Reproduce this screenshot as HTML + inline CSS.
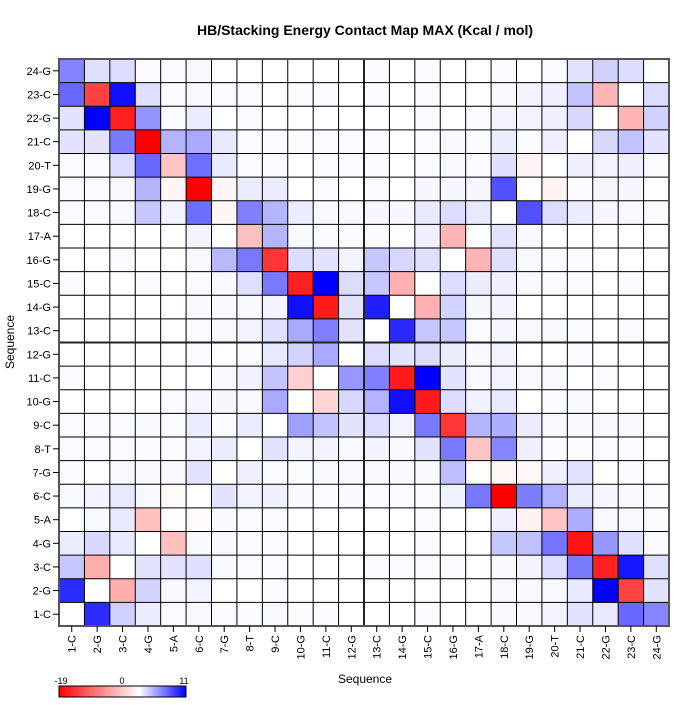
<!DOCTYPE html>
<html><head><meta charset="utf-8"><style>
body{margin:0;background:#fff;}
svg text{font-family:"Liberation Sans",sans-serif;}
</style></head><body>
<svg id="chart" width="700" height="700" xmlns="http://www.w3.org/2000/svg">
<defs><linearGradient id="cbar" x1="0" x2="1" y1="0" y2="0">
<stop offset="0" stop-color="#ff0000"/><stop offset="0.633" stop-color="#ffffff"/><stop offset="1" stop-color="#0000ff"/>
</linearGradient></defs>
<text x="365" y="35" text-anchor="middle" font-size="14" font-weight="bold">HB/Stacking Energy Contact Map MAX (Kcal / mol)</text>
<g id="cells"></g>
<g id="grid"></g>
<g id="ticks"></g>
<text x="365" y="683" text-anchor="middle" font-size="12">Sequence</text>
<text transform="translate(14,342) rotate(-90)" text-anchor="middle" font-size="12">Sequence</text>
<g>
<rect x="59" y="686" width="127" height="11" fill="url(#cbar)" stroke="#000" stroke-width="1"/>
<text x="61" y="684" text-anchor="middle" font-size="9">-19</text>
<text x="122" y="684" text-anchor="middle" font-size="9">0</text>
<text x="184" y="684" text-anchor="middle" font-size="9">11</text>
</g>
</svg>
<script>
const labels=["1-C","2-G","3-C","4-G","5-A","6-C","7-G","8-T","9-C","10-G","11-C","12-G","13-C","14-G","15-C","16-G","17-A","18-C","19-G","20-T","21-C","22-G","23-C","24-G"];
const vmin=-19, vmax=11;
// rows listed from 24 (top) down to 1; columns 1..24
const row24=[5.3,1.4,1.5,.2,.2,.3,0,0,0,0,0,0,.2,0,.2,0,0,.2,0,.2,1.2,2,1.5,0];
const row23=[6.5,-14,10.3,1.4,.2,.3,.2,.2,0,.2,.2,0,.2,0,.2,0,0,.3,.5,.7,2.6,-5.5,0,1.5];
const row22=[1.2,11,-16.6,4.6,.2,.8,0,.2,0,0,0,0,0,0,.2,0,.2,.5,.5,.7,1.7,0,-5.5,2];
const row21=[1.2,1.2,5.7,-19,3.3,3.7,1,.2,.2,.2,.2,.2,.2,0,.2,.3,.2,.8,.2,.7,0,1.7,2.6,1.2];
const row20=[.2,.2,1.5,6.5,-4.4,6.2,1,.2,.2,0,.2,.2,.2,0,.2,.3,.2,1.4,-1,0,.7,.5,.7,.2];
const row19=[.2,.2,.3,3.2,-.7,-19,-.6,.8,.8,0,.2,0,.2,0,.4,.4,.4,7.5,0,-.9,.2,.4,.4,0];
const row18=[.2,.2,.3,2.4,.5,6.3,-.7,5.5,3.2,.8,.3,.3,.4,.4,1,1.5,1,0,7.5,1.5,.8,.4,.3,.2];
const row17=[0,0,0,0,0,.5,0,-4.7,3.2,.3,.2,.2,.2,.1,.7,-5.5,0,1.2,.3,0,0,0,0,0];
const row16=[0,0,.2,0,0,.3,3,5.8,-15,1.5,1.2,.5,2.4,1.7,1.4,0,-5.5,1.4,.3,.2,.2,0,0,0];
const row15=[.2,0,0,.2,0,.2,.3,1.4,5.8,-16.6,11,1.5,2.4,-5.8,0,1.5,.8,.7,.3,.2,.2,0,.2,0];
const row14=[0,0,0,0,0,.3,.3,.3,.5,10.3,-17,1.2,9.6,0,-5.8,1.9,.4,.5,0,0,0,0,0,0];
const row13=[0,0,0,0,0,.2,.3,.5,1.4,3.7,5.5,1.2,0,9.2,2.4,2.4,.2,.4,.3,.3,.2,0,.2,0];
const row12=[0,0,0,0,0,.2,0,.2,1,1.9,3.7,0,1.5,1.2,1.5,.8,.3,.5,0,0,.2,0,0,0];
const row11=[.2,0,0,0,0,0,.3,.6,2.6,-3.5,0,4.5,5.5,-17,11,1.2,.3,.5,.3,.3,0,.2,0,0];
const row10=[0,0,0,0,.2,.4,.4,.3,3.7,0,-3.2,1.7,3.3,10.3,-17,1.5,.6,1,0,.2,.3,0,0,0];
const row9=[.2,.2,.2,.3,.2,.8,.2,.8,0,4.1,2.6,1.2,1.5,.5,5.8,-15,3.2,3.5,.8,.3,.3,.3,.3,0];
const row8=[.2,.2,.2,.2,.2,.5,.8,0,1.2,.5,.5,.3,.5,.3,1.2,5.7,-4.4,5.2,.7,.2,.2,.2,.2,0];
const row7=[.2,0,.3,.3,.3,1.2,0,.7,.2,.2,.3,.3,.3,.3,.3,2.8,0,-.7,-.6,.7,1.2,0,.2,0];
const row6=[.3,.5,1,.3,-.4,0,1.2,.5,.7,.3,.2,.3,.2,.2,.2,.6,5.8,-19,5.6,3.3,.8,.4,.3,.2];
const row5=[0,.3,1,-4.7,0,-.4,.3,.2,.2,0,0,0,0,0,.2,0,0,.7,-1,-4.4,3.5,.3,.3,.2];
const row4=[.8,1.7,1,0,-4.7,.3,.3,.2,.2,0,0,0,0,0,.2,0,0,2.4,2.7,6,-17.5,4.5,1.4,.2];
const row3=[2.4,-6,0,1.2,1.2,1.4,.3,.2,.2,0,0,0,.2,.2,.2,.2,0,.3,.5,1.5,5.7,-16.6,10,1.4];
const row2=[9.1,0,-6,1.9,.3,.5,0,0,.2,0,0,0,0,0,0,0,0,.3,.3,.3,1,11,-14,1.2];
const row1=[0,9.1,2,.8,.2,.3,.2,.2,.3,.2,.2,0,0,0,.2,0,0,.3,.3,.5,1.2,1,6.5,5.2];
const rows=[row1,row2,row3,row4,row5,row6,row7,row8,row9,row10,row11,row12,row13,row14,row15,row16,row17,row18,row19,row20,row21,row22,row23,row24];

const L=59,R=669,T=59,B=626,n=labels.length;
const cw=(R-L)/n, ch=(B-T)/n;
const xPos=i=>L+i*cw;            // column index 0..n-1
const yPos=j=>B-(j+1)*ch;        // row index 0 = "1-C" at bottom
function color(v){
  if(v>=0){const t=Math.min(v/vmax,1);const c=Math.round(255*(1-t));return `rgb(${c},${c},255)`;}
  const t=Math.min(v/vmin,1);const c=Math.round(255*(1-t));return `rgb(255,${c},${c})`;
}
const NS="http://www.w3.org/2000/svg";
const cells=document.getElementById('cells');
rows.forEach((r,j)=>r.forEach((v,i)=>{
  const e=document.createElementNS(NS,'rect');
  e.setAttribute('x',xPos(i));e.setAttribute('y',yPos(j));
  e.setAttribute('width',cw);e.setAttribute('height',ch);
  e.setAttribute('fill',color(v));
  
  
  cells.appendChild(e);
}));
const grid=document.getElementById('grid');
function line(x1,y1,x2,y2,w,c,name){
  const e=document.createElementNS(NS,'line');
  e.setAttribute('x1',x1);e.setAttribute('y1',y1);e.setAttribute('x2',x2);e.setAttribute('y2',y2);
  e.setAttribute('stroke',c);e.setAttribute('stroke-width',w);
  
  
  grid.appendChild(e);
}
for(let k=1;k<n;k++){
  const thick=(k===12);
  line(xPos(k),T,xPos(k),B,thick?2:1,thick?'#222':'#000',thick?'mid-vertical-line':'grid-line');
  line(L,B-k*ch,R,B-k*ch,thick?2:1,thick?'#222':'#000',thick?'mid-horizontal-line':'grid-line');
}
const fr=document.createElementNS(NS,'rect');
fr.setAttribute('x',L);fr.setAttribute('y',T);fr.setAttribute('width',R-L);fr.setAttribute('height',B-T);
fr.setAttribute('fill','none');fr.setAttribute('stroke','#555');fr.setAttribute('stroke-width',2);


grid.appendChild(fr);
const ticks=document.getElementById('ticks');
labels.forEach((lab,i)=>{
  const ty=B-(i+0.5)*ch, tx=L+(i+0.5)*cw;
  const t1=document.createElementNS(NS,'line');
  t1.setAttribute('x1',L-6);t1.setAttribute('x2',L);t1.setAttribute('y1',ty);t1.setAttribute('y2',ty);t1.setAttribute('stroke','#000');
  
  
  ticks.appendChild(t1);
  const yl=document.createElementNS(NS,'text');
  yl.setAttribute('x',L-8);yl.setAttribute('y',ty+4);yl.setAttribute('text-anchor','end');yl.setAttribute('font-size','11');
  yl.textContent=lab;
  
  
  ticks.appendChild(yl);
  const t2=document.createElementNS(NS,'line');
  t2.setAttribute('x1',tx);t2.setAttribute('x2',tx);t2.setAttribute('y1',B);t2.setAttribute('y2',B+6);t2.setAttribute('stroke','#000');
  
  
  ticks.appendChild(t2);
  const xl=document.createElementNS(NS,'text');
  xl.setAttribute('transform',`translate(${tx+4},${B+9}) rotate(-90)`);
  xl.setAttribute('text-anchor','end');xl.setAttribute('font-size','11');
  xl.textContent=lab;
  
  
  ticks.appendChild(xl);
});
</script>
</body></html>
